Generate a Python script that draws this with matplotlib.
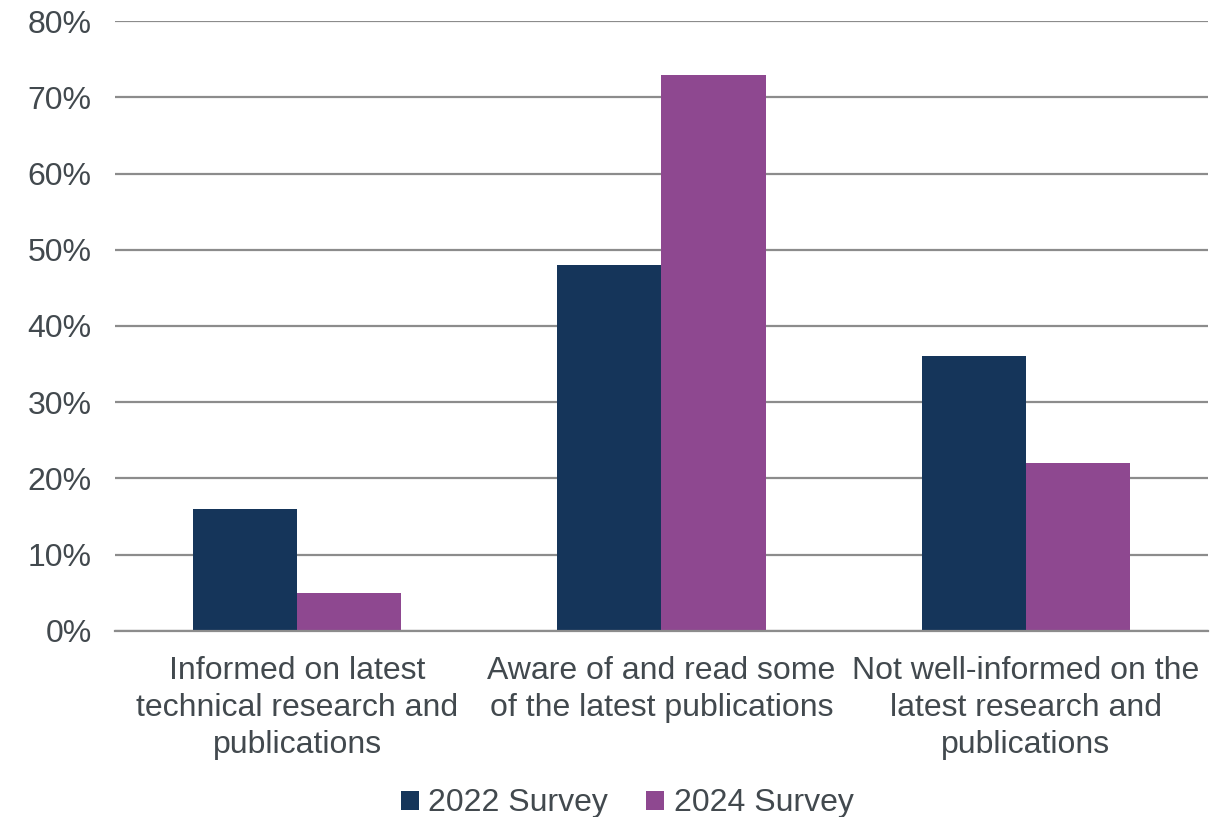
import matplotlib.pyplot as plt
import numpy as np
from matplotlib.ticker import PercentFormatter

categories = [
    "Informed on latest\ntechnical research and\npublications",
    "Aware of and read some\nof the latest publications",
    "Not well-informed on the\nlatest research and\npublications",
]
series_names = ["2022 Survey", "2024 Survey"]
survey_2022 = [16, 48, 36]
survey_2024 = [5, 73, 22]

navy = "#15355A"
purple = "#8E4890"
text_col = "#42494E"
grid_col = "#8C8C8C"

plt.rcParams['font.family'] = ['Liberation Sans', 'DejaVu Sans']

fig = plt.figure(figsize=(12.25, 8.17), dpi=100)
ax = fig.add_axes([0.094, 0.228, 0.892, 0.746])

x = np.arange(len(categories))
w = 0.286
ax.bar(x - w / 2, survey_2022, w, color=navy, label=series_names[0], zorder=3)
ax.bar(x + w / 2, survey_2024, w, color=purple, label=series_names[1], zorder=3)

ax.set_xlim(-0.5, 2.5)
ax.set_ylim(0, 80)
ax.set_yticks(range(0, 81, 10))
ax.yaxis.set_major_formatter(PercentFormatter(decimals=0))
ax.yaxis.grid(True, color=grid_col, linewidth=1.6, zorder=0)
ax.set_xticks(x)
ax.set_xticklabels(categories, linespacing=1.32)
ax.tick_params(axis='both', length=0, labelsize=23, colors=text_col)
ax.tick_params(axis='x', pad=18)
ax.tick_params(axis='y', pad=17)
for s in ["top", "right", "left"]:
    ax.spines[s].set_visible(False)
ax.spines["bottom"].set_color(grid_col)
ax.spines["bottom"].set_linewidth(1.6)
ax.spines["bottom"].set_zorder(4)

fig.legend(loc="lower center", bbox_to_anchor=(0.512, -0.037), ncol=2, frameon=False,
           fontsize=23, labelcolor=text_col, handlelength=0.55, handleheight=0.55,
           handletextpad=0.3, columnspacing=1.2)

fig.savefig("out.png", dpi=100)
